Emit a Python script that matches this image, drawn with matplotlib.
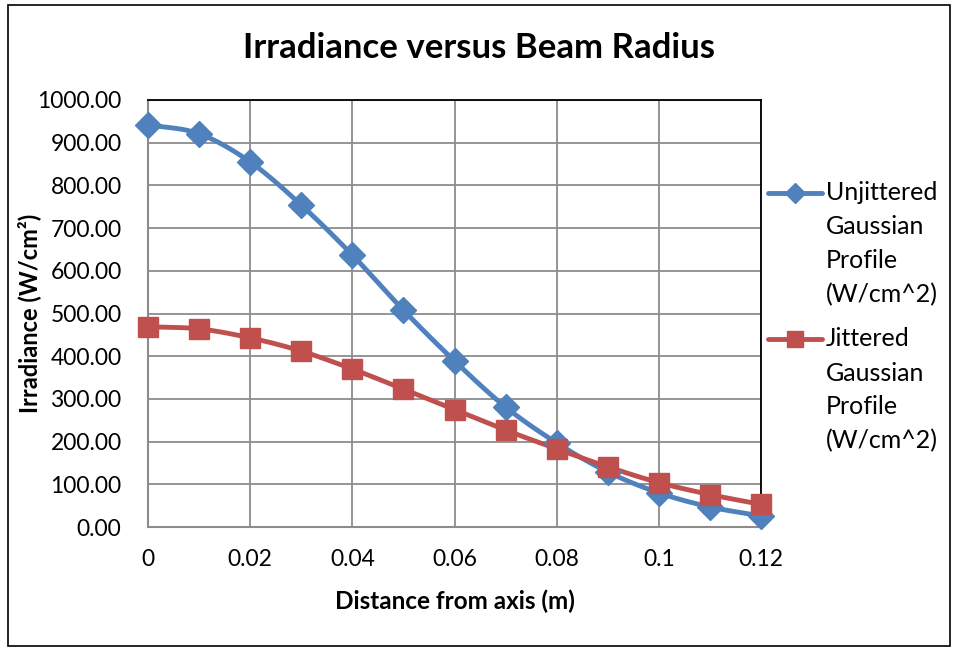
import matplotlib
matplotlib.use("Agg")
import matplotlib.pyplot as plt
import numpy as np
from matplotlib.patches import Rectangle
from matplotlib.lines import Line2D

# data
radius = [0.0, 0.01, 0.02, 0.03, 0.04, 0.05, 0.06, 0.07, 0.08, 0.09, 0.10, 0.11, 0.12]
unjittered = [942, 921, 855, 754, 637, 508, 389, 281, 197, 129, 80, 47, 26]
jittered = [469, 464, 443, 412, 370, 323, 275, 227, 183, 141, 104, 76, 53]
labels = ["Unjittered\nGaussian\nProfile\n(W/cm^2)", "Jittered\nGaussian\nProfile\n(W/cm^2)"]
xticks = [0, 0.02, 0.04, 0.06, 0.08, 0.10, 0.12]
xticklabels = ["0", "0.02", "0.04", "0.06", "0.08", "0.1", "0.12"]

BLUE = "#4F81BD"
RED = "#C0504D"
GRID = "#8C8C8C"

plt.rcParams["font.family"] = ["Lato", "DejaVu Sans"]


def smooth(x, y, n=20):
    '''Catmull-Rom curve through the points, like Excel "smoothed line"'''
    x = np.asarray(x, float)
    y = np.asarray(y, float)
    px = np.concatenate([[2 * x[0] - x[1]], x, [2 * x[-1] - x[-2]]])
    py = np.concatenate([[2 * y[0] - y[1]], y, [2 * y[-1] - y[-2]]])
    t = np.linspace(0, 1, n, endpoint=False)
    xs, ys = [], []
    for i in range(1, len(px) - 2):
        for p, out in ((px, xs), (py, ys)):
            p0, p1, p2, p3 = p[i - 1:i + 3]
            out.extend(0.5 * (2 * p1 + (-p0 + p2) * t
                              + (2 * p0 - 5 * p1 + 4 * p2 - p3) * t ** 2
                              + (-p0 + 3 * p1 - 3 * p2 + p3) * t ** 3))
    xs.append(x[-1])
    ys.append(y[-1])
    return xs, ys


fig = plt.figure(figsize=(9.58, 6.5), dpi=100)
fig.patches.append(Rectangle((8 / 958, 4 / 650), 942 / 958, 641 / 650, transform=fig.transFigure,
                             fill=False, edgecolor="black", linewidth=1.2))

ax = fig.add_axes([148 / 958, 1 - 527 / 650, 613 / 958, 427 / 650])

series = [(unjittered, BLUE, "D", 13), (jittered, RED, "s", 14)]
for vals, col, mk, ms in series:
    sx, sy = smooth(radius, vals)
    ax.plot(sx, sy, color=col, lw=3.5, solid_capstyle="round", zorder=3)
    ax.plot(radius, vals, ls="none", marker=mk, ms=ms, color=col, zorder=4, clip_on=False)

ax.set_xlim(0, 0.12)
ax.set_ylim(0, 1000)
ax.set_xticks(xticks)
ax.set_xticklabels(xticklabels)
ax.set_yticks(np.arange(0, 1001, 100))
ax.set_yticklabels(["%.2f" % v for v in np.arange(0, 1001, 100)])
ax.tick_params(labelsize=16.5, length=0)
ax.tick_params(axis="x", pad=16)
ax.tick_params(axis="y", pad=19)
ax.grid(True, color=GRID, lw=1.3)
ax.set_axisbelow(True)
for s in ("left", "bottom"):
    ax.spines[s].set_color(GRID)
    ax.spines[s].set_linewidth(1.5)
for s in ("top", "right"):
    ax.spines[s].set_color("black")
    ax.spines[s].set_linewidth(1.3)

ax.set_xlabel("Distance from axis (m)", fontsize=17.5, fontweight="bold", labelpad=14)
ax.set_ylabel("Irradiance (W/cm²)", fontsize=17, fontweight="bold", labelpad=-3)
fig.text(0.5, 1 - 48 / 650, "Irradiance versus Beam Radius", ha="center", va="center",
         fontsize=25, fontweight="bold")

# legend drawn by hand to get Excel's wrapped entries
for (vals, col, mk, ms), lab, ytop in zip(series, labels, [193, 339]):
    yf = 1 - ytop / 650
    fig.add_artist(Line2D([768 / 958, 822 / 958], [yf, yf], color=col, lw=3.5,
                          solid_capstyle="round", transform=fig.transFigure))
    fig.add_artist(Line2D([795 / 958], [yf], marker=mk, ms=ms * 0.8, color=col,
                          transform=fig.transFigure))
    for k, line in enumerate(lab.split("\n")):
        fig.text(826 / 958, 1 - (ytop + 34 * k) / 650, line, ha="left", va="center",
                 fontsize=18)

fig.savefig("out.png", dpi=100)
